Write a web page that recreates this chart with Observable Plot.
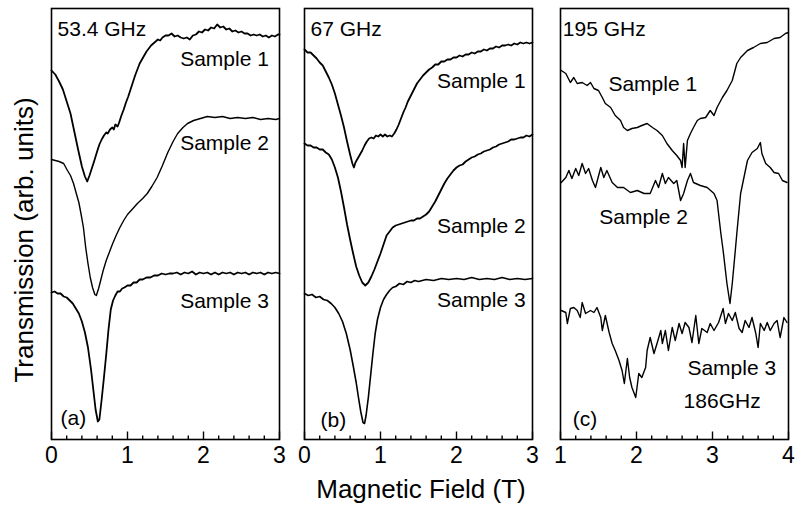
<!DOCTYPE html>
<html>
<head>
<meta charset="utf-8">
<script src="https://cdn.jsdelivr.net/npm/d3@7"></script>
<script src="https://cdn.jsdelivr.net/npm/@observablehq/plot@0.6"></script>
<style>
  html, body { margin: 0; padding: 0; background: #fff; overflow: hidden; }
  #chart { position: relative; width: 798px; height: 509px; font-family: "Liberation Sans", Arial, sans-serif; color: #000; background: #fff; }
  #chart svg { position: absolute; top: 0; overflow: visible; background: none; }
  .xlabel { position: absolute; left: 0; width: 842px; top: 474px; text-align: center; font-size: 26px; }
  .ylabel { position: absolute; left: 24px; top: 240px; transform: translate(-50%, -50%) rotate(-90deg); white-space: nowrap; font-size: 26px; }
</style>
</head>
<body>
<div id="chart">
  <div class="xlabel">Magnetic Field (T)</div>
  <div class="ylabel">Transmission (arb. units)</div>
</div>
<script>
// ---------- Panel (a): 53.4 GHz ----------
const a_sample1 = [[0.00,369],[0.05,365],[0.10,358],[0.15,350],[0.20,338],[0.25,326],[0.30,308],[0.35,290],[0.40,273],[0.44,263],[0.47,258],[0.50,264],[0.53,271],[0.56,278],[0.60,288],[0.63,295],[0.66,300],[0.69,304],[0.72,307],[0.74,306],[0.77,310],[0.80,312],[0.82,310],[0.84,315],[0.87,313],[0.89,317],[0.92,324],[0.95,330],[0.98,337],[1.01,343],[1.04,350],[1.07,357],[1.10,364],[1.13,370],[1.16,376],[1.19,380],[1.22,384],[1.25,388],[1.28,391],[1.31,394],[1.34,396],[1.37,398],[1.40,400],[1.43,399],[1.46,402],[1.50,404],[1.54,404],[1.58,406],[1.62,403],[1.66,404],[1.70,402],[1.74,401],[1.78,402],[1.82,400],[1.86,404],[1.90,405],[1.94,408],[1.98,407],[2.02,410],[2.06,409],[2.10,412],[2.14,411],[2.18,415],[2.22,412],[2.26,413],[2.30,410],[2.34,411],[2.38,408],[2.42,409],[2.46,407],[2.50,408],[2.54,406],[2.58,406],[2.62,404],[2.66,405],[2.70,404],[2.74,405],[2.78,403],[2.82,404],[2.86,402],[2.90,404],[2.94,403],[2.98,405],[3.00,405]];
const a_sample2 = [[0.00,280],[0.05,279],[0.10,278],[0.16,276],[0.21,269],[0.25,264],[0.29,256],[0.33,245],[0.36,237],[0.39,225],[0.42,212],[0.45,192],[0.48,176],[0.51,162],[0.54,152],[0.57,145],[0.59,144],[0.62,151],[0.65,160],[0.68,169],[0.72,179],[0.76,187],[0.80,195],[0.85,204],[0.90,212],[0.95,219],[1.00,225],[1.06,230],[1.13,236],[1.20,241],[1.26,246],[1.32,253],[1.39,262],[1.46,274],[1.53,287],[1.60,298],[1.66,306],[1.73,312],[1.79,316],[1.87,319],[1.96,321],[2.05,323],[2.15,322],[2.25,323],[2.35,321],[2.45,322],[2.55,321],[2.65,322],[2.75,320],[2.85,321],[2.95,320],[3.00,321]];
const a_sample3 = [[0.00,147],[0.04,148],[0.08,146],[0.12,146],[0.16,143],[0.20,142],[0.24,139],[0.28,136],[0.32,131],[0.36,126],[0.40,118],[0.44,107],[0.48,92],[0.52,70],[0.55,50],[0.58,30],[0.61,18],[0.63,20],[0.66,40],[0.69,62],[0.72,85],[0.75,110],[0.78,130],[0.81,139],[0.84,144],[0.87,148],[0.90,148],[0.93,151],[0.96,152],[1.00,154],[1.04,154],[1.08,157],[1.12,157],[1.16,160],[1.20,160],[1.25,162],[1.30,162],[1.35,164],[1.40,164],[1.45,166],[1.50,165],[1.55,166],[1.60,166],[1.65,167],[1.70,165],[1.75,167],[1.80,166],[1.85,168],[1.90,165],[1.95,167],[2.00,166],[2.05,167],[2.10,165],[2.15,167],[2.20,165],[2.25,167],[2.30,166],[2.35,167],[2.40,165],[2.45,167],[2.50,166],[2.55,167],[2.60,165],[2.65,167],[2.70,166],[2.75,167],[2.80,165],[2.85,167],[2.90,166],[2.95,167],[3.00,166]];

// ---------- Panel (b): 67 GHz ----------
const b_sample1 = [[0.00,390],[0.04,387],[0.08,387],[0.12,384],[0.16,381],[0.20,377],[0.24,374],[0.28,368],[0.32,362],[0.36,355],[0.40,346],[0.44,335],[0.48,324],[0.52,312],[0.56,298],[0.60,285],[0.63,276],[0.65,272],[0.67,277],[0.70,281],[0.73,285],[0.76,289],[0.79,294],[0.82,298],[0.85,301],[0.88,302],[0.91,301],[0.94,304],[0.97,303],[1.00,305],[1.03,303],[1.06,305],[1.09,303],[1.12,304],[1.15,303],[1.18,306],[1.21,310],[1.24,315],[1.27,321],[1.30,327],[1.33,332],[1.36,338],[1.40,344],[1.44,350],[1.48,356],[1.52,360],[1.56,364],[1.60,367],[1.64,370],[1.68,372],[1.72,375],[1.76,375],[1.80,378],[1.84,378],[1.88,380],[1.92,380],[1.96,382],[2.00,382],[2.04,384],[2.08,383],[2.12,385],[2.16,385],[2.20,387],[2.24,386],[2.28,388],[2.32,388],[2.36,390],[2.40,389],[2.44,391],[2.48,391],[2.52,393],[2.56,392],[2.60,394],[2.64,394],[2.68,395],[2.72,394],[2.76,396],[2.80,395],[2.84,397],[2.88,396],[2.92,397],[2.96,396],[3.00,397]];
const b_sample2 = [[0.00,296],[0.04,294],[0.08,294],[0.12,292],[0.16,292],[0.20,290],[0.24,290],[0.28,287],[0.32,285],[0.36,280],[0.40,272],[0.44,262],[0.48,248],[0.52,232],[0.56,215],[0.60,200],[0.64,186],[0.68,173],[0.72,164],[0.76,157],[0.80,154],[0.84,157],[0.88,163],[0.92,170],[0.96,178],[1.00,186],[1.04,195],[1.08,204],[1.12,208],[1.16,212],[1.20,214],[1.24,215],[1.28,216],[1.32,217],[1.36,218],[1.40,219],[1.44,219],[1.48,221],[1.52,221],[1.56,223],[1.60,225],[1.64,228],[1.68,233],[1.72,238],[1.76,244],[1.80,250],[1.84,256],[1.88,261],[1.92,265],[1.96,269],[2.00,272],[2.04,274],[2.08,275],[2.12,278],[2.16,280],[2.20,282],[2.24,283],[2.28,285],[2.32,286],[2.36,288],[2.40,289],[2.44,290],[2.48,292],[2.52,293],[2.56,295],[2.60,296],[2.64,297],[2.68,298],[2.72,300],[2.76,300],[2.80,301],[2.84,302],[2.88,302],[2.92,304],[2.96,303],[3.00,305]];
const b_sample3 = [[0.00,146],[0.05,144],[0.10,145],[0.15,142],[0.20,143],[0.25,140],[0.30,139],[0.35,136],[0.40,132],[0.45,126],[0.50,118],[0.55,106],[0.60,90],[0.64,74],[0.68,57],[0.71,42],[0.74,28],[0.77,17],[0.79,16],[0.81,24],[0.84,42],[0.87,64],[0.90,86],[0.93,106],[0.96,120],[1.00,132],[1.04,140],[1.08,145],[1.12,149],[1.16,152],[1.20,153],[1.25,156],[1.30,155],[1.35,158],[1.40,157],[1.45,159],[1.50,158],[1.60,160],[1.70,159],[1.80,161],[1.90,160],[2.00,161],[2.10,160],[2.20,162],[2.30,160],[2.40,161],[2.50,160],[2.60,162],[2.70,160],[2.80,161],[2.90,160],[3.00,161]];

// ---------- Panel (c): 195 GHz (Sample 3 at 186 GHz) ----------
const c_sample1 = [[1.01,369],[1.07,366],[1.13,357],[1.175,362],[1.22,356],[1.285,357],[1.35,354],[1.395,357],[1.44,351],[1.50,349],[1.55,342],[1.59,336],[1.66,332],[1.72,324],[1.79,319],[1.83,312],[1.88,309],[1.94,311],[2.01,312],[2.07,314],[2.14,316],[2.21,312],[2.27,309],[2.34,304],[2.40,296],[2.47,289],[2.53,284],[2.58,279],[2.60,272],[2.62,296],[2.64,272],[2.67,299],[2.71,306],[2.75,312],[2.80,319],[2.84,321],[2.91,322],[2.97,329],[3.02,324],[3.06,332],[3.13,342],[3.19,349],[3.26,359],[3.32,376],[3.37,382],[3.46,389],[3.54,392],[3.63,396],[3.72,397],[3.81,401],[3.89,402],[3.96,406],[4.00,407]];
const c_sample2 = [[1.01,257],[1.07,262],[1.11,269],[1.15,261],[1.20,271],[1.24,264],[1.285,276],[1.33,266],[1.37,271],[1.42,259],[1.46,252],[1.53,272],[1.57,262],[1.61,269],[1.68,257],[1.75,252],[1.83,252],[1.92,247],[2.01,249],[2.10,246],[2.18,246],[2.25,259],[2.29,252],[2.34,266],[2.38,256],[2.42,262],[2.49,256],[2.53,259],[2.58,239],[2.62,246],[2.67,259],[2.71,266],[2.75,257],[2.84,254],[2.93,252],[3.02,246],[3.06,239],[3.11,206],[3.14,189],[3.19,156],[3.23,136],[3.26,156],[3.30,189],[3.32,206],[3.37,246],[3.46,279],[3.52,287],[3.59,291],[3.63,297],[3.65,286],[3.70,276],[3.76,272],[3.81,267],[3.87,266],[3.92,259],[3.98,257]];
const c_sample3 = [[1.01,129],[1.07,127],[1.09,116],[1.13,131],[1.175,132],[1.22,129],[1.26,122],[1.285,137],[1.33,126],[1.395,129],[1.44,127],[1.48,132],[1.53,122],[1.55,109],[1.59,124],[1.64,107],[1.68,96],[1.72,89],[1.77,79],[1.81,69],[1.84,56],[1.88,81],[1.91,62],[1.94,52],[1.99,42],[2.03,66],[2.07,62],[2.12,72],[2.14,89],[2.18,102],[2.23,86],[2.27,96],[2.32,109],[2.34,96],[2.38,109],[2.42,89],[2.47,112],[2.51,99],[2.56,116],[2.60,106],[2.64,117],[2.69,112],[2.73,97],[2.78,124],[2.82,96],[2.86,111],[2.93,107],[2.97,116],[3.02,109],[3.08,117],[3.14,131],[3.17,116],[3.21,126],[3.26,119],[3.30,127],[3.35,111],[3.39,107],[3.43,119],[3.48,112],[3.52,122],[3.57,106],[3.60,92],[3.63,116],[3.68,109],[3.72,117],[3.76,109],[3.81,116],[3.85,119],[3.89,102],[3.94,122],[3.98,117]];

// ---------- Axes ----------
const ticksAB = [0, 1, 2, 3];
const ticksC = [1, 2, 3, 4];

// ---------- Annotations (data units) ----------
const notesA = [
  {text: "53.4 GHz", x: 0.08, y: 410, anchor: "start"},
  {text: "Sample 1", x: 2.86, y: 380, anchor: "end"},
  {text: "Sample 2", x: 2.86, y: 296, anchor: "end"},
  {text: "Sample 3", x: 2.86, y: 138, anchor: "end"},
  {text: "(a)", x: 0.12, y: 21, anchor: "start"}
];
const notesB = [
  {text: "67 GHz", x: 0.08, y: 410, anchor: "start"},
  {text: "Sample 1", x: 2.91, y: 358, anchor: "end"},
  {text: "Sample 2", x: 2.91, y: 213, anchor: "end"},
  {text: "Sample 3", x: 2.91, y: 139, anchor: "end"},
  {text: "(b)", x: 0.21, y: 19, anchor: "start"}
];
const notesC = [
  {text: "195 GHz", x: 1.03, y: 410, anchor: "start"},
  {text: "Sample 1", x: 1.63, y: 355, anchor: "start"},
  {text: "Sample 2", x: 1.51, y: 222, anchor: "start"},
  {text: "Sample 3", x: 2.67, y: 71, anchor: "start"},
  {text: "186GHz", x: 2.62, y: 38, anchor: "start"},
  {text: "(c)", x: 1.16, y: 20, anchor: "start"}
];

const Y_DOMAIN = [0, 431];
const FONT = '"Liberation Sans", Arial, sans-serif';

function toRows(arr) { return arr.map(([x, y]) => ({x, y})); }

function panel({series, widths, notes, xDomain, ticks, left, mLeft, mRight}) {
  const frameW = 228, frameH = 431, mTop = 8, mBottom = 40;
  const minors = [];
  for (let i = 0; i < ticks.length - 1; i++) {
    for (let k = 1; k < 5; k++) minors.push({x: +(ticks[i] + k * 0.2).toFixed(2), len: 4});
  }
  const majors = ticks.map(t => ({x: t, len: 8}));
  const y0 = Y_DOMAIN[0];
  const marks = [];
  series.forEach((s, i) => marks.push(Plot.line(toRows(s), {x: "x", y: "y", stroke: "black", strokeWidth: widths[i], strokeLinejoin: "round"})));
  marks.push(Plot.link(minors.concat(majors), {x1: "x", x2: "x", y1: () => y0, y2: d => y0 + d.len, stroke: "black", strokeWidth: 1.4}));
  marks.push(Plot.text(notes.filter(d => d.anchor === "start"), {x: "x", y: "y", text: "text", textAnchor: "start", fontSize: 21, fill: "black"}));
  marks.push(Plot.text(notes.filter(d => d.anchor === "end"), {x: "x", y: "y", text: "text", textAnchor: "end", fontSize: 21, fill: "black"}));
  marks.push(Plot.frame({stroke: "black", strokeWidth: 1.6}));
  const svg = Plot.plot({
    width: frameW + mLeft + mRight,
    height: frameH + mTop + mBottom,
    marginLeft: mLeft, marginRight: mRight, marginTop: mTop, marginBottom: mBottom,
    style: {fontFamily: FONT, fontSize: "23px", color: "black", background: "none", overflow: "visible"},
    x: {domain: xDomain, ticks: ticks, tickSize: 0, tickPadding: 7, tickFormat: d => String(d), label: null},
    y: {domain: Y_DOMAIN, axis: null},
    marks
  });
  svg.style.left = left + "px";
  return svg;
}

const chart = document.getElementById("chart");
chart.appendChild(panel({series: [a_sample1, a_sample2, a_sample3], widths: [1.8, 1.4, 1.8], notes: notesA, xDomain: [0, 3], ticks: ticksAB, left: 36, mLeft: 15, mRight: 15}));
chart.appendChild(panel({series: [b_sample1, b_sample2, b_sample3], widths: [1.8, 1.8, 1.6], notes: notesB, xDomain: [0, 3], ticks: ticksAB, left: 289, mLeft: 15, mRight: 15}));
chart.appendChild(panel({series: [c_sample1, c_sample2, c_sample3], widths: [1.4, 1.4, 1.4], notes: notesC, xDomain: [1, 4], ticks: ticksC, left: 545, mLeft: 15, mRight: 12}));
</script>
</body>
</html>
